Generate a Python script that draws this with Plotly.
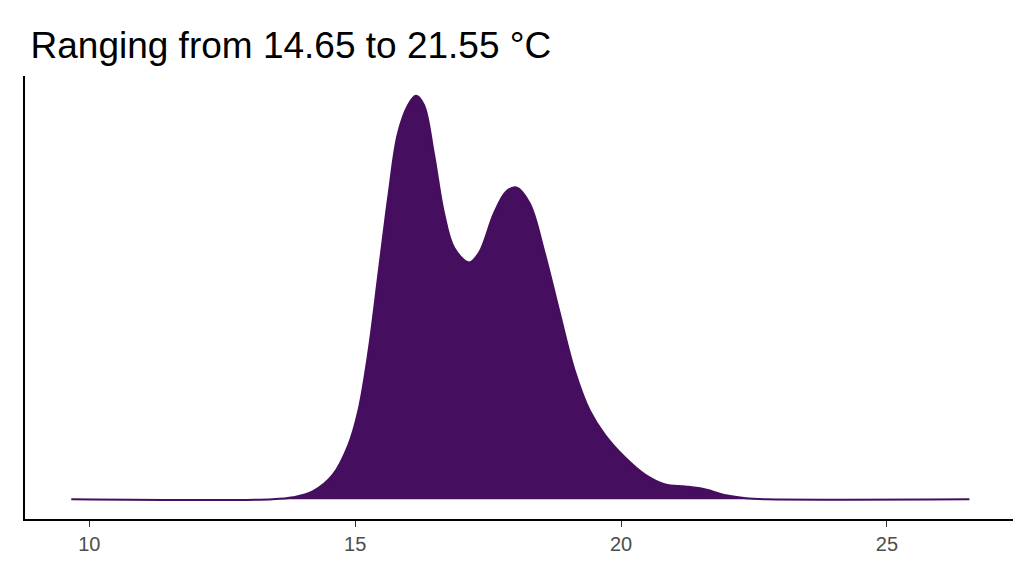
import plotly.graph_objects as go

# temperatura (°C) y densidad estimada
temp = [9.66, 13.45, 13.83, 14.2, 14.58, 14.87, 15.06, 15.25, 15.44, 15.63, 15.8, 16.0,
        16.14, 16.29, 16.48, 16.67, 16.86, 17.14, 17.33, 17.61, 17.84, 18.03, 18.28,
        18.56, 18.84, 19.13, 19.41, 19.7, 20.08, 20.45, 20.83, 21.21, 21.59, 21.97,
        22.35, 22.73, 26.55]
densidad = [0, 0, 0.002, 0.008, 0.025, 0.055, 0.09, 0.15, 0.23, 0.31, 0.37, 0.40,
            0.409, 0.40, 0.35, 0.29, 0.255, 0.24, 0.25, 0.29, 0.312, 0.316, 0.30,
            0.25, 0.19, 0.13, 0.09, 0.065, 0.042, 0.025, 0.015, 0.013, 0.010, 0.004,
            0.001, 0, 0]
ticks = [10, 15, 20, 25]

fig = go.Figure()
fig.add_trace(go.Scatter(x=temp, y=densidad, mode="lines", fill="tozeroy",
                         line=dict(color="#460E5E", width=2, shape="spline", smoothing=1),
                         fillcolor="#460E5E", hoverinfo="skip"))

fig.update_xaxes(range=[8.79, 27.37], tickvals=ticks, showgrid=False, zeroline=False,
                 showline=True, linecolor="black", linewidth=2, ticks="outside",
                 ticklen=6, tickcolor="#333", tickfont=dict(size=20, color="#4d4d4d"))
fig.update_yaxes(range=[-0.020, 0.429], showgrid=False, zeroline=False, showticklabels=False,
                 showline=True, linecolor="black", linewidth=2)

fig.update_layout(width=1024, height=576, showlegend=False,
                  margin=dict(l=17, r=19, t=68, b=65),
                  plot_bgcolor="white", paper_bgcolor="white",
                  font=dict(family="Liberation Sans, Arial"),
                  title=dict(text="Ranging from 14.65 to 21.55 °C", x=0.022, xanchor="left",
                             y=0.935, yanchor="middle", font=dict(size=37, color="black")))
fig.write_html("out.html")
